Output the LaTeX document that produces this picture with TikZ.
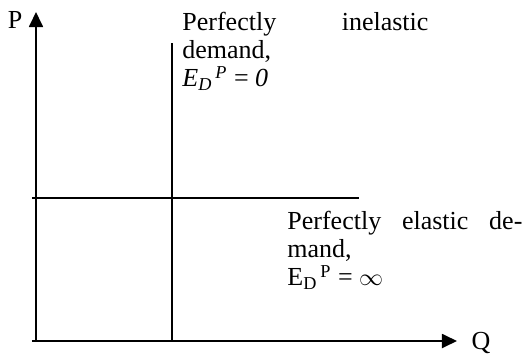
\documentclass[tikz,border=0pt]{standalone}
\usepackage{fontspec}
\setmainfont{Liberation Serif}
\usetikzlibrary{arrows.meta, positioning}

\begin{document}
\begin{tikzpicture}[
    x=0.5pt, y=-0.5pt,
    axis/.style={-{Triangle[length=7.5pt, width=7pt]}, line width=0.9pt},
    demand/.style={line width=1pt},
    lbl/.style={font=\fontsize{13}{14}\selectfont, inner sep=0pt},
    note/.style={lbl, align=justify, anchor=north west}
  ]
    \useasboundingbox (0,0) rectangle (532,355);

    \coordinate (origin) at (36,341);
    \coordinate (xstart) at (32,341);
    \coordinate (ptop) at (36,12);
    \coordinate (qend) at (457,341);
    \coordinate (vdtop) at (172,43);
    \coordinate (vdbot) at (172,341);
    \coordinate (hdleft) at (32,198);
    \coordinate (hdright) at (359,198);

    \draw[axis] (origin) -- (ptop);
    \draw[axis] (xstart) -- (qend);
    \draw[demand] (vdtop) -- (vdbot);
    \draw[demand] (hdleft) -- (hdright);

    \node[lbl] (plabel) at (15,20) {P};
    \node[lbl] (qlabel) at (481,343) {Q};

    \node[note, text width=123pt] (inelastic) at (182,12)
      {Perfectly inelastic\linebreak demand,\\
       \textit{E\textsubscript{D}\textsuperscript{\,P}} = \textit{0}};
    \node[note, text width=117.5pt] (elastic) at (287,211)
      {Perfectly elastic de-\linebreak mand,\\
       E\textsubscript{D}\textsuperscript{\,P} = $\infty$};
  \end{tikzpicture}
\end{document}
